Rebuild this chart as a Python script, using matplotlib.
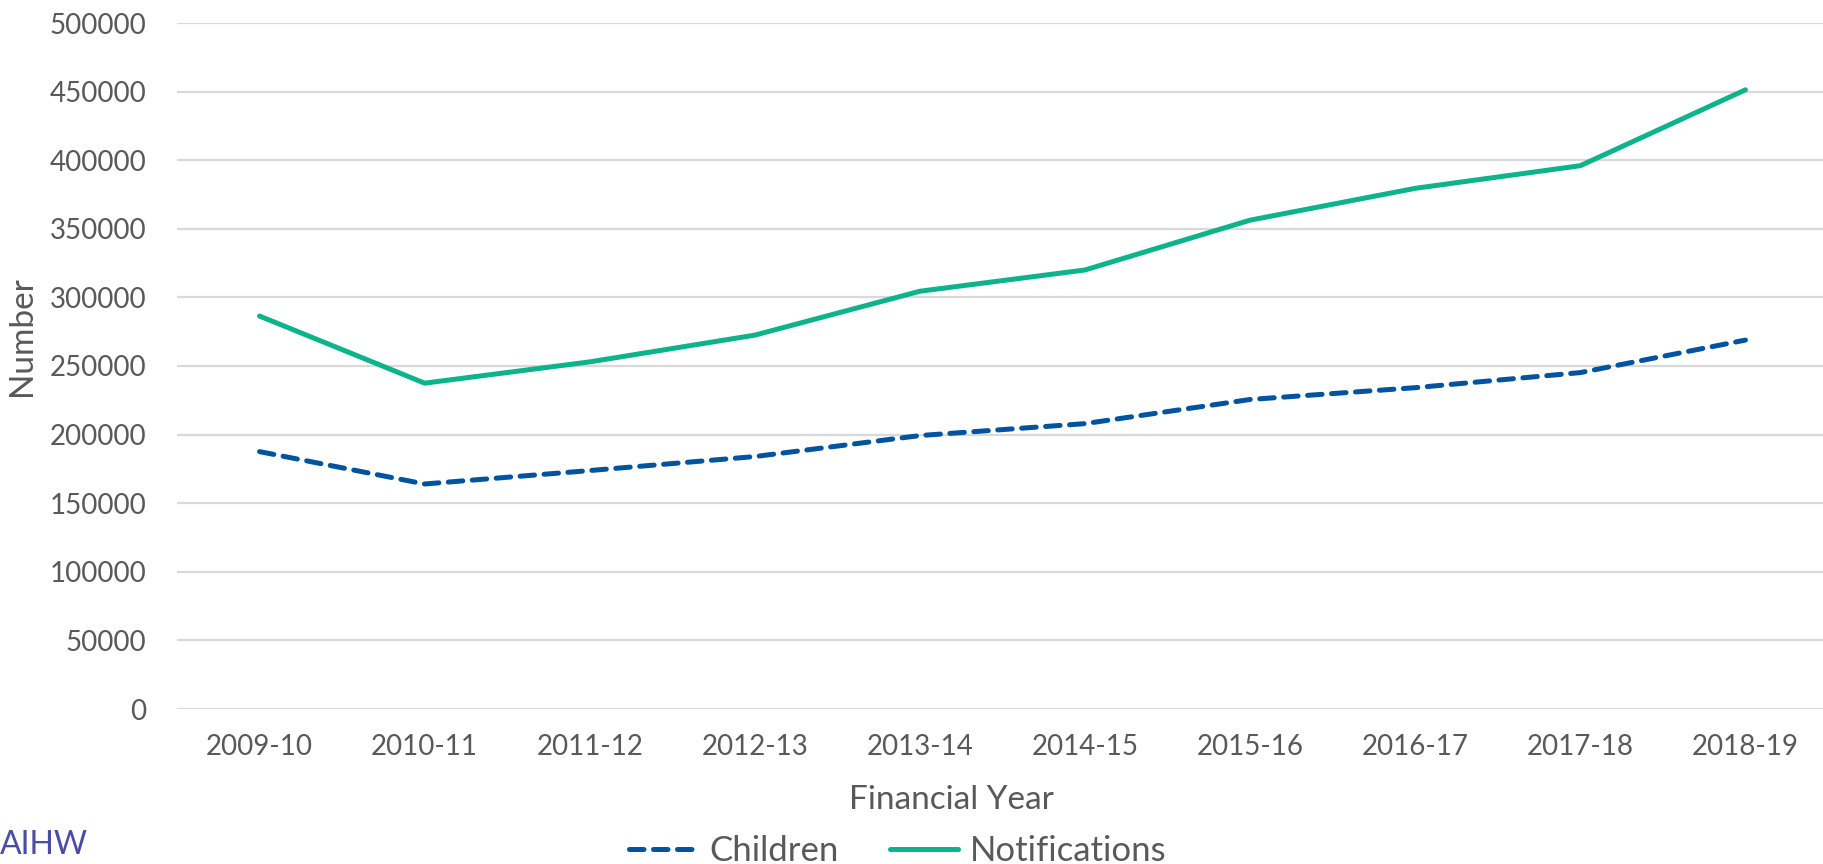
import matplotlib
matplotlib.use("Agg")
import matplotlib.pyplot as plt

plt.rcParams['font.family'] = ['Lato', 'DejaVu Sans']

years = ["2009-10", "2010-11", "2011-12", "2012-13", "2013-14",
         "2014-15", "2015-16", "2016-17", "2017-18", "2018-19"]
children = [187600, 164000, 173800, 184000, 199300,
            208000, 225600, 234200, 245200, 268900]
notifications = [286400, 237500, 253000, 272500, 304500,
                 320000, 356300, 379500, 396000, 451300]
yticks = list(range(0, 500001, 50000))

grey = "#595959"
blue = "#00539f"
green = "#0db38b"

fig = plt.figure(figsize=(18.23, 8.64), dpi=100)
ax = fig.add_axes([177 / 1823, 1 - 709 / 864, 1651 / 1823, 686 / 864])

x = list(range(len(years)))
ax.plot(x, children, color=blue, lw=3.6, dashes=(2.9, 1.9),
        dash_capstyle="round", solid_capstyle="round", label="Children")
ax.plot(x, notifications, color=green, lw=3.6, solid_capstyle="round",
        label="Notifications")

ax.set_xlim(-0.5, 9.5)
ax.set_ylim(0, 500000)
ax.set_xticks(x)
ax.set_xticklabels(years)
ax.set_yticks(yticks)
ax.set_yticklabels([str(v) for v in yticks])
ax.tick_params(length=0, labelsize=20, colors=grey)
ax.tick_params(axis="y", pad=22)
ax.tick_params(axis="x", pad=18)
ax.grid(axis="y", color="#d9d9d9", lw=1.6)
ax.set_axisbelow(True)
for s in ax.spines.values():
    s.set_visible(False)

fig.text(22 / 1823, 1 - 336 / 864, "Number", rotation=90, ha="center",
         va="center", fontsize=24, color=grey)
fig.text(951 / 1823, 1 - 800 / 864, "Financial Year", ha="center",
         va="center", fontsize=24, color=grey)
fig.text(0.0, 1 - 845 / 864, "AIHW", ha="left", va="center",
         fontsize=23, color="#4b4ca6")

fig.legend(loc="center", bbox_to_anchor=(898 / 1823, 1 - 851 / 864),
           ncol=2, frameon=False, fontsize=25, labelcolor=grey,
           handlelength=1.95, handletextpad=0.35, columnspacing=1.5,
           borderpad=0, borderaxespad=0)

fig.savefig("out.png", dpi=100)
